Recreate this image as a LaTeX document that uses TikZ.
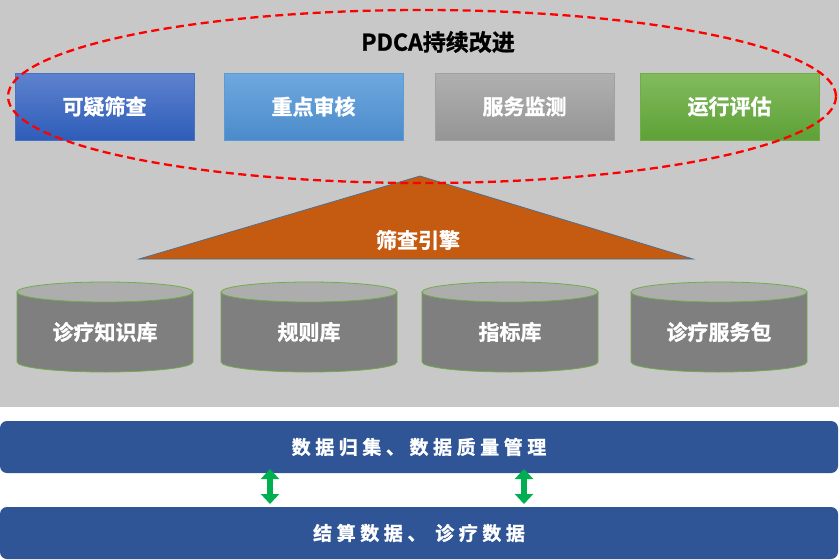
\documentclass[tikz,border=0pt]{standalone}
\usepackage{fontspec}
\setmainfont{Noto Sans CJK SC}[BoldFont={Noto Sans CJK SC Bold},BoldFeatures={FakeBold=1.2}]
\newfontfamily\barfont{Noto Sans CJK SC}[LetterSpace=24,BoldFont={Noto Sans CJK SC Bold},BoldFeatures={FakeBold=1.2}]
\usetikzlibrary{arrows.meta}
\definecolor{bgc}{HTML}{C8C8C8}
\definecolor{b1t}{HTML}{5E82CE}\definecolor{b1b}{HTML}{2E5DB9}\definecolor{b1d}{HTML}{4472C4}
\definecolor{b2t}{HTML}{6FA8DF}\definecolor{b2b}{HTML}{4B8BCB}\definecolor{b2d}{HTML}{5B9BD5}
\definecolor{b3t}{HTML}{B0B0B0}\definecolor{b3b}{HTML}{959595}\definecolor{b3d}{HTML}{A0A0A0}
\definecolor{b4t}{HTML}{82BB5E}\definecolor{b4b}{HTML}{5EA136}\definecolor{b4d}{HTML}{70AD47}
\definecolor{tri}{HTML}{C55A11}\definecolor{triedge}{HTML}{41719C}
\definecolor{cylbody}{HTML}{7F7F7F}\definecolor{cyltop}{HTML}{ADADAD}\definecolor{cyledge}{HTML}{70AD47}
\definecolor{barc}{HTML}{2F5597}\definecolor{arrc}{HTML}{00B050}
\definecolor{dashred}{HTML}{FF0000}
\tikzset{
  topbox/.style={rectangle, minimum width=179pt, minimum height=67pt, inner sep=0pt, line width=0.8pt,
    text=white, font=\bfseries\fontsize{21}{24}\selectfont},
  whitetxt/.style={text=white, inner sep=0pt, font=\bfseries\fontsize{21}{24}\selectfont},
  cylbodystyle/.style={fill=cylbody, draw=cyledge, line width=0.8pt},
  cyltopstyle/.style={fill=cyltop, draw=cyledge, line width=0.8pt},
  bar/.style={rectangle, rounded corners=7pt, fill=barc, minimum width=838pt, minimum height=52pt,
    inner sep=0pt, text=white, font=\barfont\bfseries\fontsize{19}{21}\selectfont},
  dbl/.style={draw=arrc, line width=6pt, {Triangle[width=18pt,length=10pt]}-{Triangle[width=18pt,length=10pt]}}
}
\begin{document}
\begin{tikzpicture}[x=1pt,y=-1pt]
\useasboundingbox (0,0) rectangle (839,560);
\fill[bgc] (0,0) rectangle (839,407);
% title
\node[inner sep=0pt, font=\bfseries\fontsize{23}{26}\selectfont] (title) at (438,42) {PDCA持续改进};
% top boxes
\node[topbox, top color=b1t, bottom color=b1b, draw=b1d] (q1) at (104.5,106.5) {可疑筛查};
\node[topbox, top color=b2t, bottom color=b2b, draw=b2d] (q2) at (313.5,106.5) {重点审核};
\node[topbox, top color=b3t, bottom color=b3b, draw=b3d] (q3) at (524.5,106.5) {服务监测};
\node[topbox, top color=b4t, bottom color=b4b, draw=b4d] (q4) at (729.5,106.5) {运行评估};
% triangle
\filldraw[fill=tri, draw=triedge, line width=0.7pt] (420,176) -- (693,259) -- (139,259) -- cycle;
\node[whitetxt] (engine) at (418,240) {筛查引擎};
% cylinders
\foreach \xa/\xb/\lab/\nm in {17/193/诊疗知识库/c1, 221/397/规则库/c2, 422/598/指标库/c3, 631/807/诊疗服务包/c4}{
  \pgfmathsetmacro{\rx}{(\xb-\xa)/2}
  \pgfmathsetmacro{\cx}{(\xb+\xa)/2}
  \filldraw[cylbodystyle] (\xa,292) -- (\xa,362) arc[start angle=180, end angle=0, x radius=\rx, y radius=10] -- (\xb,292) -- cycle;
  \filldraw[cyltopstyle] (\cx,292) ellipse[x radius=\rx, y radius=10];
  \node[whitetxt] (\nm) at (\cx,332) {\lab};
}
% dashed ellipse
\draw[dashred, line width=2.3pt, dash pattern=on 8pt off 4.5pt] (422,96.5) ellipse[x radius=414, y radius=86.5];
% bars
\node[bar] (bar1) at (419,447) {数据归集、数据质量管理};
\node[bar] (bar2) at (419,533) {结算数据、 诊疗数据};
% arrows
\coordinate (a1t) at (270,469); \coordinate (a1b) at (270,504);
\coordinate (a2t) at (524,469); \coordinate (a2b) at (524,504);
\draw[dbl] (a1t) -- (a1b);
\draw[dbl] (a2t) -- (a2b);
\end{tikzpicture}
\end{document}
